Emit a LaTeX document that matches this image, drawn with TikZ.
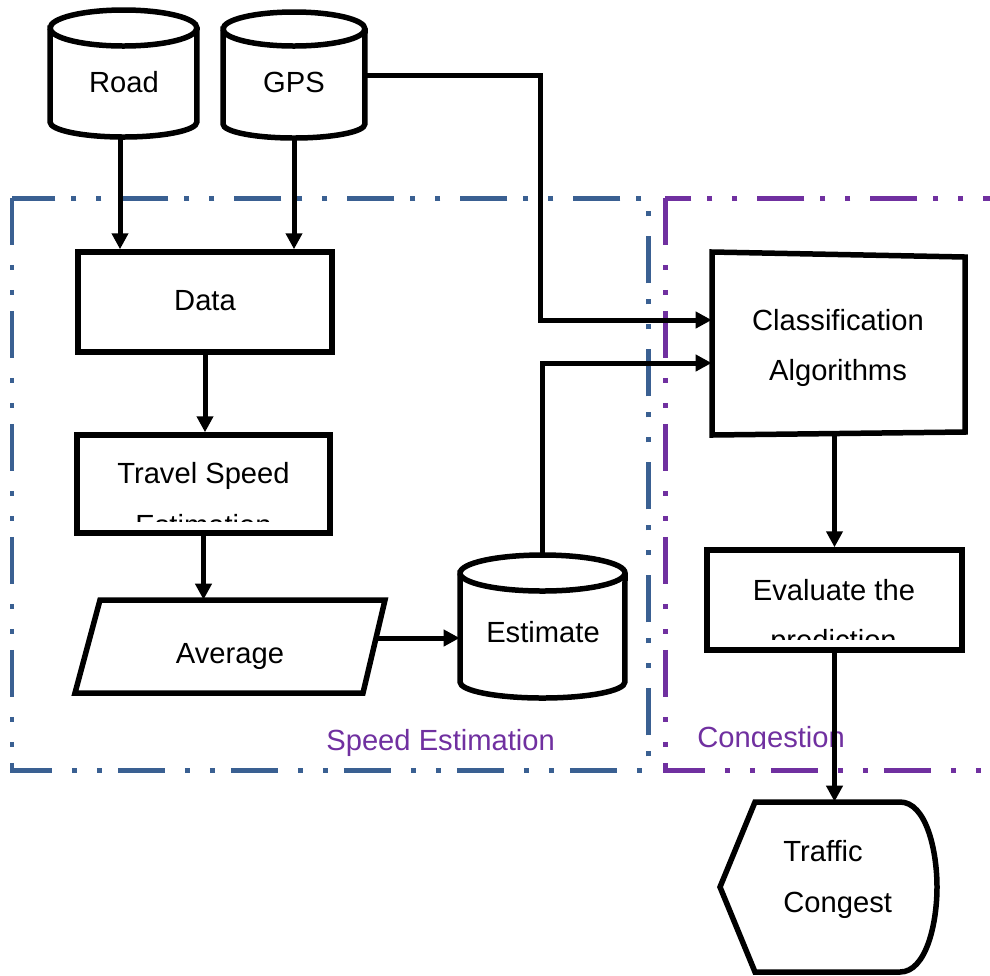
\documentclass[tikz,border=0pt]{standalone}
\usepackage{fontspec}
\setmainfont{Liberation Sans}
\usetikzlibrary{arrows.meta,calc}
\definecolor{frblue}{HTML}{3A6092}
\definecolor{frpurple}{HTML}{7030A0}
\newcommand\dbcyl[6]{%
 \pgfmathsetmacro\cylrx{(#2-#1)*0.01}%
 \pgfmathsetmacro\cylya{#3+#5}%
 \pgfmathsetmacro\cylyb{#4-#6}%
 \pgfmathsetmacro\cylrya{#5*0.02}%
 \pgfmathsetmacro\cylryb{#6*0.02}%
 \draw[ln,fill=white] (#1,\cylya) -- (#1,\cylyb) arc[start angle=180,end angle=360,x radius=\cylrx cm,y radius=\cylryb cm] -- (#2,\cylya) arc[start angle=0,end angle=180,x radius=\cylrx cm,y radius=\cylrya cm] -- cycle;
 \draw[ln] (#1,\cylya) arc[start angle=180,end angle=360,x radius=\cylrx cm,y radius=\cylrya cm];
}
\tikzset{
 ln/.style={line width=0.11cm, draw=black},
 arr/.style={line width=0.1cm, draw=black, -{Triangle[length=0.32cm,width=0.32cm]}},
 framedash/.style={line width=0.1cm, dash pattern=on 0.94cm off 0.4cm on 0.1cm off 0.4cm on 0.1cm off 0.32cm},
 hold/.style={inner sep=0pt, draw=none},
 boxnode/.style={inner sep=0pt, ln, fill=white},
 tx/.style={inner sep=0pt, anchor=base, font=\fontsize{16.6}{19}\selectfont},
 txl/.style={tx, anchor=base west},
}
\begin{document}
\begin{tikzpicture}[x=0.02cm,y=-0.02cm]
\useasboundingbox (0,0) rectangle (990,975);
\clip (0,0) rectangle (990,975);

% frames
\draw[framedash, draw=frblue] (12,198) rectangle (648,770);
\draw[framedash, draw=frpurple] (665,198) rectangle (1010,770);
\node[txl, text=frpurple] (lblspeed) at (326,750) {Speed Estimation};
\begin{scope}
 \clip (680,700) rectangle (900,748);
 \node[txl, text=frpurple] (lblcong) at (697,747) {Congestion};
\end{scope}

% cylinders
\dbcyl{50}{197}{10}{137}{18}{15}
\node[hold, minimum width=2.94cm, minimum height=2.54cm] (road) at (123.5,73.5) {};
\dbcyl{223}{365}{12}{138}{17}{14}
\node[hold, minimum width=2.84cm, minimum height=2.52cm] (gps) at (294,75) {};
\dbcyl{460}{625}{555}{698}{18}{16}
\node[hold, minimum width=3.3cm, minimum height=2.86cm] (est) at (542.5,626.5) {};

% boxes
\node[boxnode, minimum width=5.08cm, minimum height=2.0cm] (data) at (205,302) {};
\node[boxnode, minimum width=5.06cm, minimum height=1.96cm] (travel) at (203.5,484) {};
\node[boxnode, minimum width=5.1cm, minimum height=2.0cm] (eval) at (834.5,600) {};

% average parallelogram
\draw[ln, fill=white] (100,600) -- (385,600) -- (363,693) -- (75,693) -- cycle;
\node[hold, minimum width=6.2cm, minimum height=1.86cm] (avg) at (230,646.5) {};

% classification
\draw[ln, fill=white] (712,252) -- (965,257) -- (965,432) -- (712,435) -- cycle;
\node[hold, minimum width=5.06cm, minimum height=3.66cm] (class) at (838.5,343.5) {};

% traffic display
\draw[ln, fill=white] (755,802) -- (900,802) .. controls (926,802) and (937,850) .. (937,887)
  .. controls (937,924) and (926,972) .. (900,972) -- (755,972) -- (720,887) -- cycle;
\node[hold, minimum width=4.34cm, minimum height=3.4cm] (traffic) at (828.5,887) {};

% texts
\node[tx] (troad) at (124,92) {Road};
\node[tx] (tgps) at (294,92) {GPS};
\node[tx] (tdata) at (205,310) {Data};
\node[tx] (ttravel) at (203.5,483) {Travel Speed};
\begin{scope}
 \clip (80,440) rectangle (328,521);
 \node[tx] (ttravelb) at (203.5,535) {Estimation};
\end{scope}
\node[tx] (tavg) at (230,663) {Average};
\node[tx] (test) at (543,642) {Estimate};
\node[tx] (tclass) at (838,330) {Classification};
\node[tx] (tclassb) at (838,380) {Algorithms};
\node[tx] (teval) at (834,600) {Evaluate the};
\begin{scope}
 \clip (712,560) rectangle (958,639);
 \node[tx] (tevalb) at (833.5,650) {prediction};
\end{scope}
\node[txl] (ttraffic) at (783,861) {Traffic};
\node[txl] (ttrafficb) at (783,912) {Congest};

% connectors
\draw[arr] ([xshift=-0.07cm]road.south) -- ([xshift=-0.07cm]road.south |- data.north);
\draw[arr] (gps.south) -- (gps.south |- data.north);
\draw[arr] (data.south) -- (data.south |- travel.north);
\draw[arr] (travel.south) -- (travel.south |- avg.north);
\coordinate (avgR) at (376,638);
\draw[arr] (avgR) -- (avgR -| est.west);
\coordinate (bendA) at (540,75);
\draw[arr] (gps.east) -- (bendA) |- ([yshift=0.47cm]class.west);
\draw[arr] (est.north) |- ([yshift=-0.39cm]class.west);
\draw[arr] (eval.north |- class.south) -- (eval.north);
\draw[arr] (eval.south) -- (eval.south |- traffic.north);
\end{tikzpicture}
\end{document}
